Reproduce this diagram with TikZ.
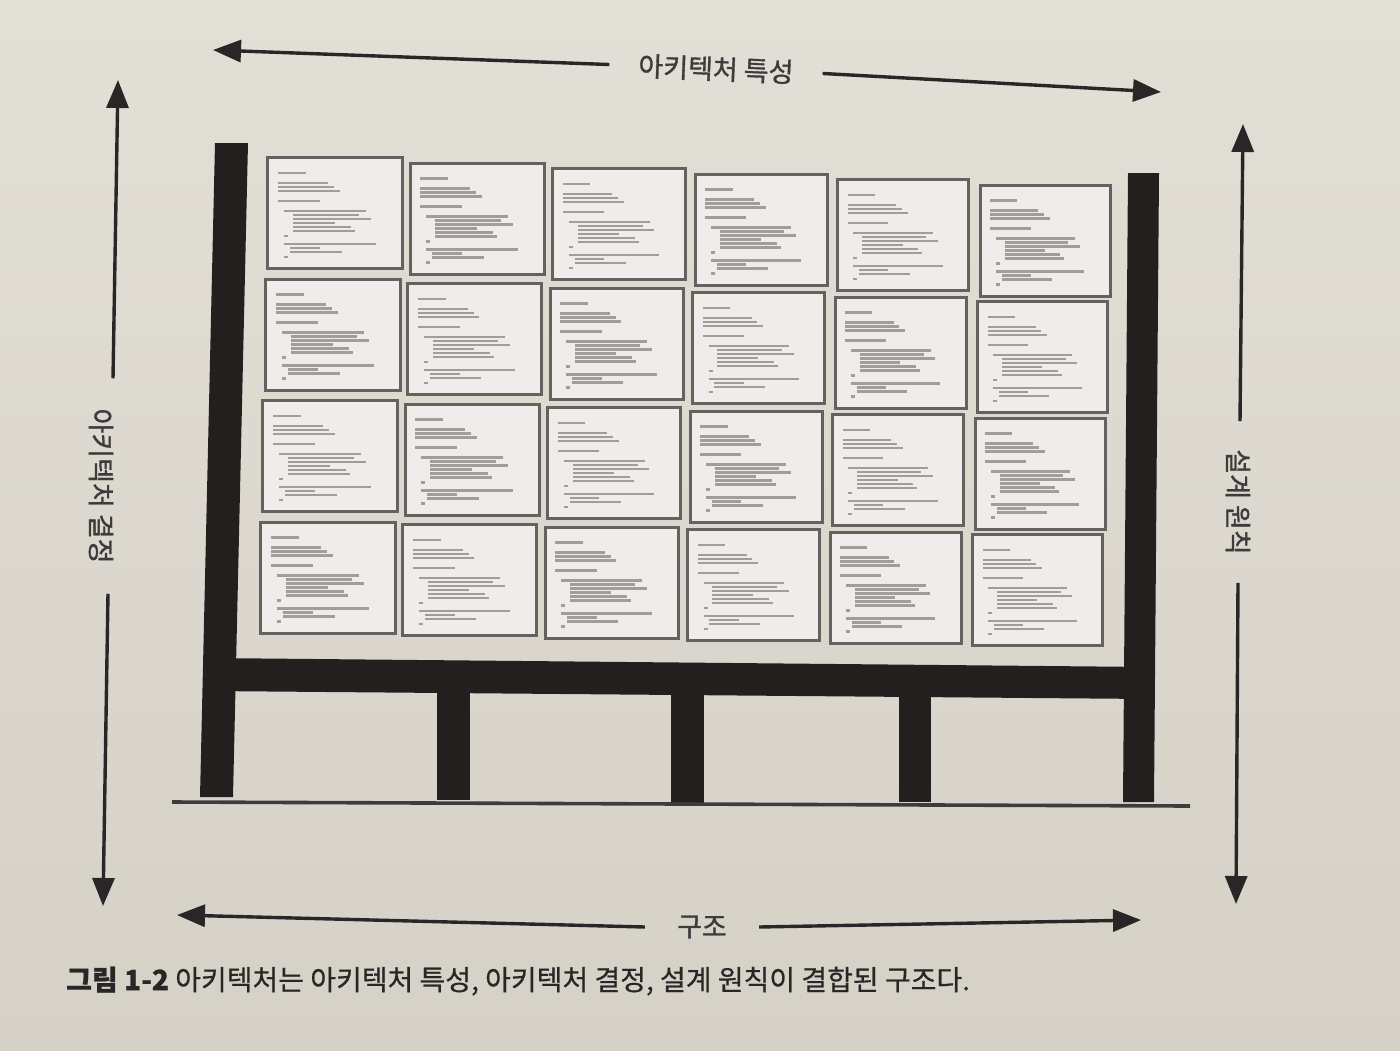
\documentclass[tikz,border=0pt]{standalone}
\usepackage{fontspec}
\setmainfont{Noto Sans CJK KR}
\newfontfamily\labelfont[FakeBold=1.2]{Noto Sans CJK KR}
\newfontfamily\capfont[FakeBold=0.6]{Noto Sans CJK KR}
\usetikzlibrary{arrows.meta}
\definecolor{papertop}{RGB}{226,223,214}
\definecolor{paperbot}{RGB}{214,209,199}
\definecolor{ink}{RGB}{40,38,38}
\definecolor{post}{RGB}{36,31,31}
\definecolor{cardfill}{RGB}{238,237,233}
\definecolor{cardedge}{RGB}{100,98,96}
\definecolor{codegray}{RGB}{160,158,155}
\begin{document}
\begin{tikzpicture}[x=1pt,y=-1pt,
  arr/.style={draw=ink, line width=3.4pt, -{Triangle[length=28pt,width=22pt]}},
  lbl/.style={font=\labelfont\fontsize{27}{27}\selectfont, text=ink!90, inner ysep=0pt},
  postfill/.style={fill=post},
  cardbox/.style={draw=cardedge, line width=3.4pt, fill=cardfill, inner sep=0pt, anchor=north west},
  codeline/.style={draw=codegray, line width=2.2pt},
  groundline/.style={draw=ink!90, line width=3.6pt}]
\useasboundingbox (0,0) rectangle (1400,1050);
\shade[top color=papertop, bottom color=paperbot] (0,0) rectangle (1400,1050);

% ---------- cards ----------
\foreach \i in {0,...,5}{
  \foreach \j in {0,...,3}{
    \pgfmathsetmacro\xo{266+142.5*\i-2.5*\j}
    \pgfmathsetmacro\yo{156+(5.5-1.0*\j)*\i+121.5*\j}
    \pgfmathsetmacro\cw{135-1*\i}
    \pgfmathsetmacro\sx{\cw/135}
    \node[cardbox, minimum width=\cw pt, minimum height=111pt] (c\i\j) at (\xo,\yo) {};
    \begin{scope}[shift={(c\i\j.north west)}]
      \foreach \dx/\dy/\len in {12/17/28, 12/27/50, 12/31/56, 12/35/62, 12/45/42,
                                 18/55/82, 27/59/66, 27/63/78, 27/67/42, 27/71/58, 27/75/62,
                                 18/80/4, 18/88/92, 24/92/30, 24/96/52, 18/101/4}
        \draw[codeline] (\dx*\sx,\dy) -- ++(\len*\sx,0);
    \end{scope}
  }
}

% ---------- structure ----------
\fill[postfill] (215,143) -- (248,143) -- (233,797) -- (200,797) -- cycle;
\fill[postfill] (1128,173) -- (1159,173) -- (1154,802) -- (1123,802) -- cycle;
\fill[postfill] (210,658) -- (1150,667) -- (1150,699) -- (210,691) -- cycle;
\fill[postfill] (437,690) rectangle (470,800);
\fill[postfill] (671,690) rectangle (704,803);
\fill[postfill] (899,690) rectangle (931,802);
\coordinate (g1) at (172,802);
\coordinate (g2) at (1190,806);
\draw[groundline] (g1) -- (g2);

% ---------- labels and arrows ----------
\coordinate (tA) at (213,50);
\coordinate (tB) at (1161,92);
\node[lbl, rotate=-2.4, inner xsep=29pt] (lT) at (716,69) {아키텍처 특성};
\draw[arr] (lT.west) -- (tA);
\draw[arr] (lT.east) -- (tB);

\coordinate (lA) at (118,80);
\coordinate (lB) at (103,906);
\node[lbl, rotate=-90, inner xsep=30pt] (lL) at (101,486) {아키텍처 결정};
\draw[arr] ([xshift=12pt]lL.west) -- (lA);
\draw[arr] ([xshift=7pt]lL.east) -- (lB);

\coordinate (rA) at (1243,124);
\coordinate (rB) at (1236,904);
\node[lbl, rotate=-90, inner xsep=28pt] (lR) at (1238,502) {설계 원칙};
\draw[arr] ([xshift=2pt]lR.west) -- (rA);
\draw[arr] (lR.east) -- (rB);

\coordinate (bA) at (177,915);
\coordinate (bB) at (1141,920);
\node[lbl, inner xsep=32pt] (lBot) at (702,927) {구조};
\draw[arr] (lBot.west) -- (bA);
\draw[arr] (lBot.east) -- (bB);

% ---------- caption ----------
\node[anchor=west, inner sep=0pt, text=ink, font=\capfont\fontsize{28}{28}\selectfont] (cap) at (66,981)
  {\textbf{그림 1-2} 아키텍처는 아키텍처 특성, 아키텍처 결정, 설계 원칙이 결합된 구조다.};
\end{tikzpicture}
\end{document}
